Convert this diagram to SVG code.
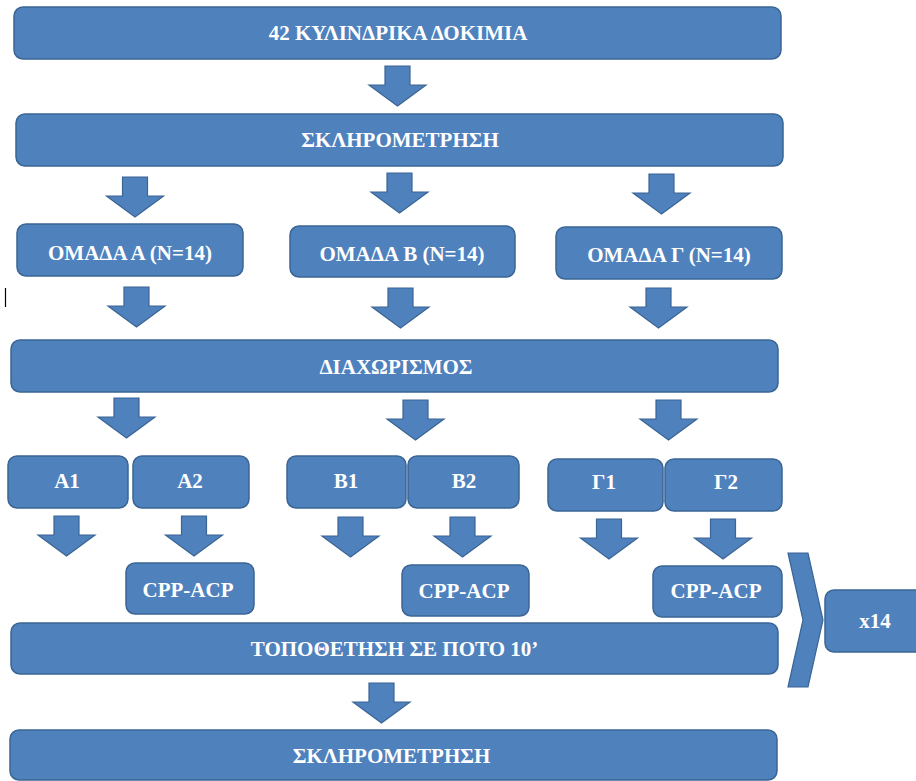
<svg xmlns="http://www.w3.org/2000/svg" xmlns:xlink="http://www.w3.org/1999/xlink" width="916" height="781" viewBox="0 0 916 781">
<style>
.box{fill:#4F81BD;stroke:#3A6594;stroke-width:1.5}
.arr{fill:#4F81BD;stroke:#3A6594;stroke-width:1.2;stroke-linejoin:miter}
.t{fill:#FFFFFF;font-family:'Liberation Serif','Times New Roman','DejaVu Serif',serif;font-weight:bold;font-size:21px;text-anchor:middle}
</style>
<defs>
<path id="arr" d="M-12.5,0 H12.5 V19 H28.5 L0,40 L-28.5,19 H-12.5 Z"/>
</defs>
<rect width="916" height="781" fill="#FFFFFF"/>
<line x1="5.5" y1="288" x2="5.5" y2="307" stroke="#000000" stroke-width="1.2"/>
<g id="connectors" class="arr">
<use href="#arr" x="397.5" y="66"/>
<use href="#arr" x="135" y="177"/>
<use href="#arr" x="399.5" y="173"/>
<use href="#arr" x="661.5" y="174"/>
<use href="#arr" x="136.5" y="287"/>
<use href="#arr" x="400.5" y="288"/>
<use href="#arr" x="658.5" y="288"/>
<use href="#arr" x="126.5" y="398"/>
<use href="#arr" x="415.5" y="400"/>
<use href="#arr" x="668.5" y="400"/>
<use href="#arr" x="66.5" y="516"/>
<use href="#arr" x="194" y="516"/>
<use href="#arr" x="350.5" y="517"/>
<use href="#arr" x="462.5" y="517"/>
<use href="#arr" x="609" y="519"/>
<use href="#arr" x="723" y="519"/>
<use href="#arr" x="381.5" y="683"/>
<path id="chevron" d="M788,553 H808 L823,620 L808,687 H788 L803,620 Z"/>
</g>
<g font-family="Liberation Serif, DejaVu Serif, serif">
<g id="n-top"><rect class="box" x="14" y="7" width="767" height="52" rx="9"/><text class="t" x="398" y="40">42 ΚΥΛΙΝΔΡΙΚΑ ΔΟΚΙΜΙΑ</text></g>
<g id="n-hard1"><rect class="box" x="16" y="114" width="767" height="52" rx="9"/><text class="t" x="400" y="147">ΣΚΛΗΡΟΜΕΤΡΗΣΗ</text></g>
<g id="n-grA"><rect class="box" x="17" y="224" width="226" height="52" rx="9"/><text class="t" x="130" y="260">ΟΜΑΔΑ Α (Ν=14)</text></g>
<g id="n-grB"><rect class="box" x="290" y="226" width="225" height="51" rx="9"/><text class="t" x="402" y="261">ΟΜΑΔΑ Β (Ν=14)</text></g>
<g id="n-grG"><rect class="box" x="556" y="227" width="226" height="52" rx="9"/><text class="t" x="669" y="262">ΟΜΑΔΑ Γ (Ν=14)</text></g>
<g id="n-split"><rect class="box" x="11" y="340" width="767" height="52" rx="9"/><text class="t" x="396" y="374">ΔΙΑΧΩΡΙΣΜΟΣ</text></g>
<g id="n-A1"><rect class="box" x="8" y="456" width="120" height="52" rx="9"/><text class="t" x="67" y="488">Α1</text></g>
<g id="n-A2"><rect class="box" x="133" y="456" width="116" height="52" rx="9"/><text class="t" x="190" y="488">Α2</text></g>
<g id="n-B1"><rect class="box" x="287" y="456" width="119" height="52" rx="9"/><text class="t" x="346" y="488">Β1</text></g>
<g id="n-B2"><rect class="box" x="408" y="456" width="111" height="52" rx="9"/><text class="t" x="464" y="488">Β2</text></g>
<g id="n-G1"><rect class="box" x="548" y="459" width="115" height="52" rx="9"/><text class="t" x="604" y="489">Γ1</text></g>
<g id="n-G2"><rect class="box" x="665" y="459" width="117" height="52" rx="9"/><text class="t" x="726" y="489">Γ2</text></g>
<g id="n-cppA"><rect class="box" x="126" y="563" width="128" height="51" rx="9"/><text class="t" x="188" y="597">CPP-ACP</text></g>
<g id="n-cppB"><rect class="box" x="402" y="565" width="127" height="51" rx="9"/><text class="t" x="464" y="598">CPP-ACP</text></g>
<g id="n-cppG"><rect class="box" x="653" y="566" width="129" height="51" rx="9"/><text class="t" x="716" y="598">CPP-ACP</text></g>
<g id="n-drink"><rect class="box" x="11" y="623" width="767" height="51" rx="9"/><text class="t" x="394.5" y="656">ΤΟΠΟΘΕΤΗΣΗ ΣΕ ΠΟΤΟ 10’</text></g>
<g id="n-x14"><rect class="box" x="825" y="590" width="100" height="62" rx="9"/><text class="t" x="875" y="628">x14</text></g>
<g id="n-hard2"><rect class="box" x="10" y="730" width="767" height="50" rx="9"/><text class="t" x="391.5" y="763">ΣΚΛΗΡΟΜΕΤΡΗΣΗ</text></g>
</g>
</svg>
